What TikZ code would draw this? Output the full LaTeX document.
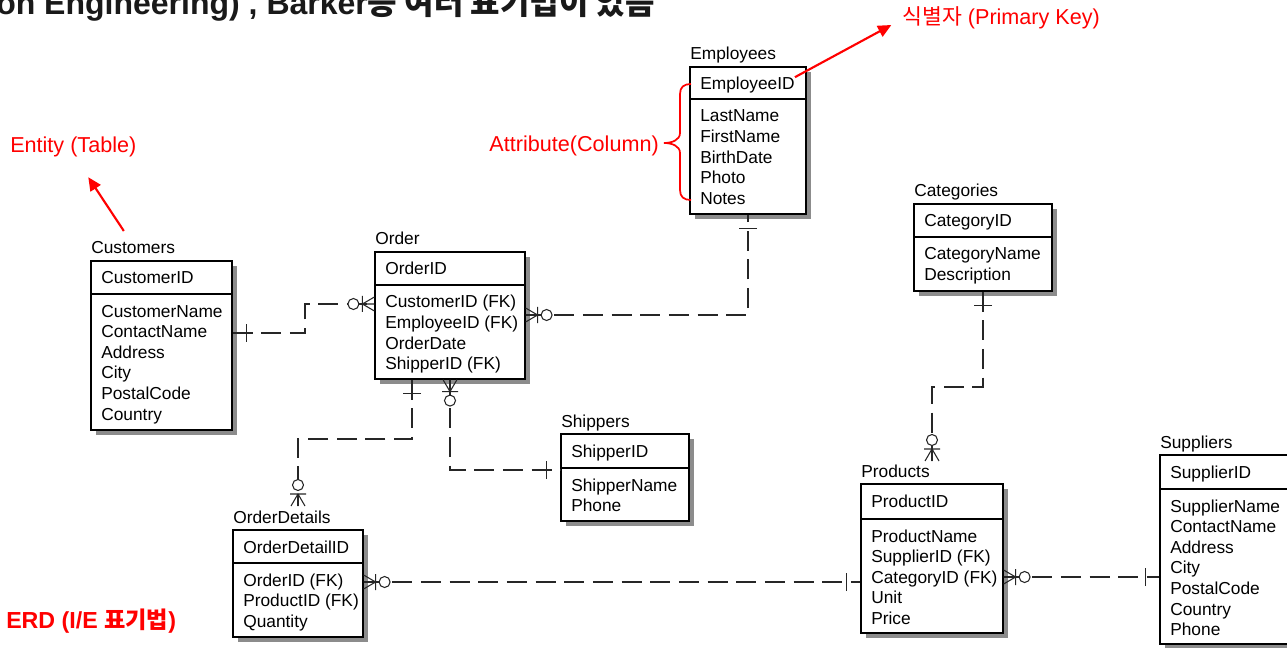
\documentclass[tikz,border=0pt]{standalone}
\usepackage{fontspec}
\setmainfont{Liberation Sans}
\newfontfamily\cjk{Noto Sans CJK KR}
\usetikzlibrary{arrows.meta,fit}
\tikzset{
  ebox/.style={draw=black, line width=0.9pt, fill=white, inner sep=0pt},
  etext/.style={inner sep=0pt, font=\fontsize{13}{15.5}\selectfont, text=black},
  shadowfill/.style={fill=black!45},
  rel/.style={draw=black!85, line width=0.8pt, dash pattern=on 15pt off 6.5pt},
  relsym/.style={draw=black!85, line width=0.8pt, solid},
  redlbl/.style={inner sep=0pt, font=\fontsize{16.2}{19}\selectfont, text=red},
  redarrow/.style={draw=red, line width=1.6pt, -{Triangle[length=10pt,width=9pt]}},
  zmany/.pic={\draw[relsym] (0,-7) -- (12,0) -- (0,7) (0,0) -- (12,0) (12,-8) -- (12,8);
              \draw[relsym, fill=white] (21,0) circle[radius=5.5];},
  onebar/.pic={\draw[relsym] (14,-9) -- (14,9);}
}
\newcommand\entity[9]{%
  \fill[shadowfill] ({#3+5},{#4+5}) rectangle ({#5+5},{#7+5});
  \node[ebox, fit={(#3,#4)(#5,#7)}] (#1) {};
  \draw[line width=0.9pt] (#3,#6) -- (#5,#6);
  \node[etext, anchor=base west] (#1-t) at (#3,{#4-7}) {#2};
  \node[etext, anchor=base west] (#1-k) at ({#3+10},{#4+23}) {#8};
  \foreach \a [count=\i] in {#9} {\node[etext, anchor=base west] (#1-a\i) at ({#3+10},{#6+23+(\i-1)*20.6}) {\a};}
}
\begin{document}
\begin{tikzpicture}[x=0.75pt,y=-0.75pt]
\useasboundingbox (0,0) rectangle (1287,648);
\clip (0,0) rectangle (1287,648);

% heading (cut at top, as in the source)
\node[anchor=base west, inner sep=0pt, text=black!90, font=\bfseries\fontsize{24}{28}\selectfont] (head) at (-4,15) {on Engineering) , Barker{\cjk 등 여러 표기법이 있음}};

% entities
\entity{cust}{Customers}{91}{261}{232}{294}{430}{CustomerID}{CustomerName,ContactName,Address,City,PostalCode,Country}
\entity{ord}{Order}{375}{252}{525}{285}{379}{OrderID}{CustomerID (FK),EmployeeID (FK),OrderDate,ShipperID (FK)}
\entity{emp}{Employees}{690}{67}{806}{99}{214}{EmployeeID}{LastName,FirstName,BirthDate,Photo,Notes}
\entity{cat}{Categories}{914}{204}{1052}{237}{291}{CategoryID}{CategoryName,Description}
\entity{shp}{Shippers}{561}{434}{689}{468}{521}{ShipperID}{ShipperName,Phone}
\entity{od}{OrderDetails}{233}{530}{363}{563}{637}{OrderDetailID}{OrderID (FK),ProductID (FK),Quantity}
\entity{prd}{Products}{861}{484}{1003}{519}{633}{ProductID}{ProductName,SupplierID (FK),CategoryID (FK),Unit,Price}
\entity{sup}{Suppliers}{1160}{455}{1300}{489}{644}{SupplierID}{SupplierName,ContactName,Address,City,PostalCode,Country,Phone}

\coordinate (odtop) at (298,506);
\coordinate (prdtop) at (932,461);

% relationships
\draw[rel] (cust.east |- 0,333) -- (305,333) -- (305,304) -- (ord.west |- 0,304);
\pic at (cust.east |- 0,333) {onebar};
\pic[rotate=180] at (ord.west |- 0,304) {zmany};

\draw[rel] (ord.east |- 0,315) -- (748,315) -- (emp.south -| 748,0);
\pic at (ord.east |- 0,315) {zmany};
\pic[rotate=-90] at (emp.south -| 748,0) {onebar};

\draw[rel] (ord.south -| 412,0) -- (412,439) -- (298,439) -- (odtop);
\pic[rotate=-90] at (ord.south -| 412,0) {onebar};
\pic[rotate=90] at (odtop) {zmany};

\draw[rel] (ord.south -| 450,0) -- (450,470) -- (shp.west |- 0,470);
\pic[rotate=-90] at (ord.south -| 450,0) {zmany};
\pic[rotate=180] at (shp.west |- 0,470) {onebar};

\draw[rel] (od.east |- 0,582) -- (prd.west |- 0,582);
\pic at (od.east |- 0,582) {zmany};
\pic[rotate=180] at (prd.west |- 0,582) {onebar};

\draw[rel] (cat.south -| 983,0) -- (983,387) -- (932,387) -- (prdtop);
\pic[rotate=-90] at (cat.south -| 983,0) {onebar};
\pic[rotate=90] at (prdtop) {zmany};

\draw[rel] (prd.east |- 0,577) -- (sup.west |- 0,577);
\pic at (prd.east |- 0,577) {zmany};
\pic[rotate=180] at (sup.west |- 0,577) {onebar};

% red annotations
\node[redlbl, anchor=base west] (pk) at (902,25) {{\cjk 식별자} (Primary Key)};
\draw[redarrow] (emp-k.north east) -- ([xshift=-8pt]pk.base west);

\node[redlbl, anchor=base west] (ent) at (10,153) {Entity (Table)};
\draw[redarrow] ([xshift=-7pt,yshift=8pt]cust-t.north) -- ([xshift=11.25pt,yshift=-14.6pt]ent.south);

\node[redlbl, anchor=base east] (attr) at (659,152) {Attribute(Column)};
\draw[red, line width=1.3pt] (691,84) .. controls (684,84) and (680,87) .. (680,94) -- (680,133)
  .. controls (680,140) and (672,143) .. (664,143) .. controls (672,143) and (680,146) .. (680,153)
  -- (680,190) .. controls (680,197) and (684,200) .. (691,200);

\node[anchor=base west, inner sep=0pt, text=red, font=\bfseries\fontsize{17.4}{20}\selectfont] (erd) at (6,628) {ERD (I/E {\cjk 표기법})};
\end{tikzpicture}
\end{document}
